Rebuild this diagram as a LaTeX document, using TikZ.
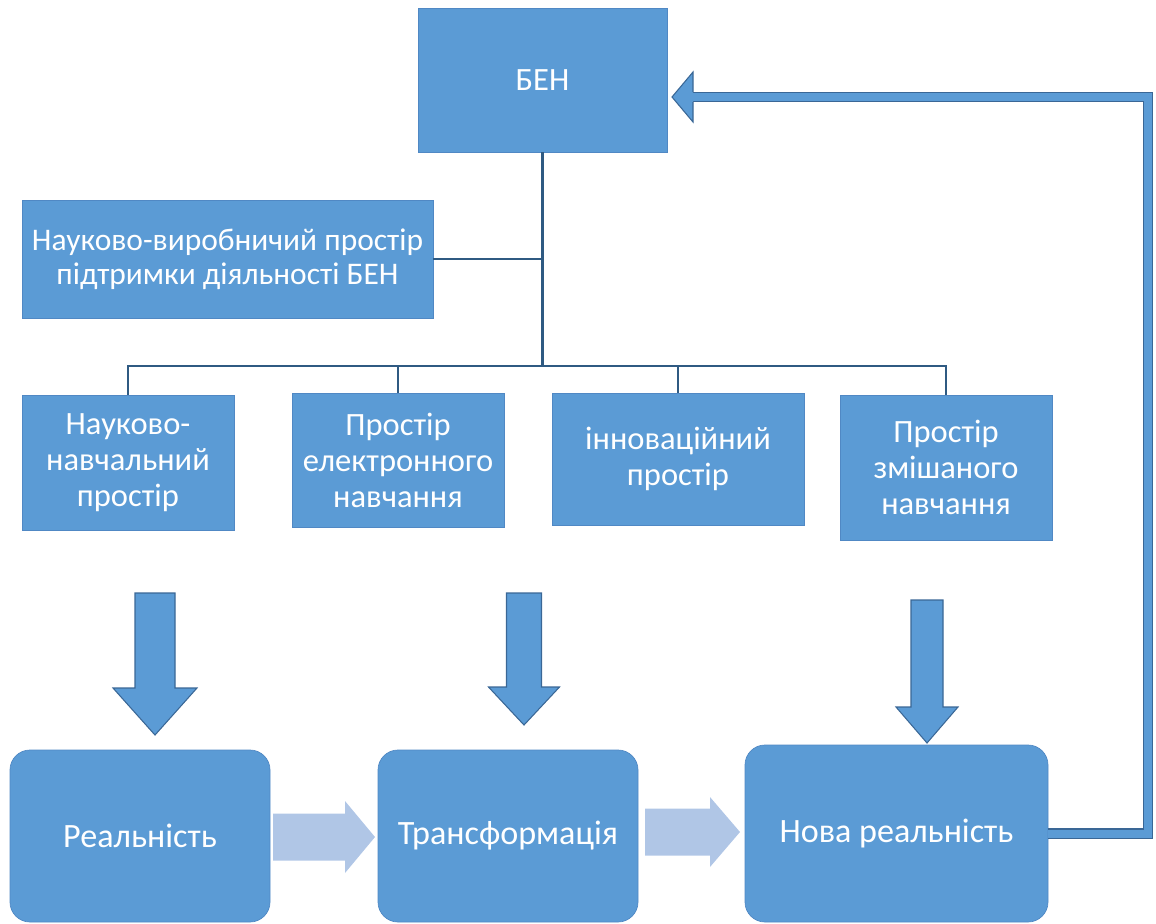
\documentclass[tikz,border=0pt]{standalone}
\usepackage{fontspec}
\setmainfont{Carlito}
\usepackage{xcolor}
\usepackage{tikz}
\usetikzlibrary{calc}
\usetikzlibrary{positioning}
\definecolor{boxblue}{HTML}{5B9BD5}
\definecolor{boxedge}{HTML}{5088C4}
\definecolor{linkdark}{HTML}{2F5A82}
\definecolor{arrowedge}{HTML}{3A6796}
\definecolor{paleblue}{HTML}{B0C6E6}

\begin{document}
\begin{tikzpicture}[
	box/.style={fill=boxblue,draw=boxedge,line width=0.4pt,text=white,align=center,
		inner sep=0pt,font=\fontsize{18.5}{20.5}\selectfont},
	rbox/.style={box,rounded corners=0.4cm,font=\fontsize{19.4}{21}\selectfont},
	link/.style={draw=linkdark,line width=1.4pt},
	fatarrow/.style={fill=boxblue,draw=arrowedge,line width=0.6pt,line join=miter},
	palearrow/.style={fill=paleblue},
	backlink/.style={draw=arrowedge,double=boxblue,line width=0.6pt,double distance=0.16cm}
	]
	\useasboundingbox (0,0) rectangle (23.12,-18.46);
	% top
	\node[box,minimum width=4.98cm,minimum height=2.88cm] (ben) at (10.85,-1.6) {БЕН};
	\node[box,minimum width=8.22cm,minimum height=2.36cm,font=\fontsize{17.9}{19.5}\selectfont] (prod) at (4.55,-5.18) {Науково-виробничий простір\\підтримки діяльності БЕН};
	% middle row
	\node[box,minimum width=4.24cm,minimum height=2.7cm] (nav) at (2.56,-9.25) {Науково-\\навчальний\\простір};
	\node[box,minimum width=4.24cm,minimum height=2.68cm] (el) at (7.96,-9.2) {Простір\\електронного\\навчання};
	\node[box,minimum width=5.04cm,minimum height=2.64cm] (inn) at (13.56,-9.18) {інноваційний\\простір};
	\node[box,minimum width=4.24cm,minimum height=2.9cm] (mix) at (18.92,-9.35) {Простір\\змішаного\\навчання};
	% bottom
	\node[rbox,minimum width=5.2cm,minimum height=3.44cm] (real) at (2.8,-16.72) {Реальність};
	\node[rbox,minimum width=5.2cm,minimum height=3.44cm] (trans) at (10.16,-16.72) {Трансформація};
	\node[rbox,minimum width=6.06cm,minimum height=3.54cm] (new) at (17.93,-16.67) {Нова реальність};
	
	\coordinate (bus) at (10.88,-7.32);
	\draw[link] (ben.south) -- (ben.south |- bus);
	\draw[link] (prod.east) -- (prod.east -| ben.south);
	\draw[link] (nav.north) |- (bus) -| (mix.north);
	\draw[link] (el.north) -- (el.north |- bus);
	\draw[link] (inn.north) -- (inn.north |- bus);
	
	\draw[fatarrow] (2.7,-11.86) -- (3.5,-11.86) -- (3.5,-13.76) -- (3.94,-13.76) -- (3.1,-14.7) -- (2.26,-13.76) -- (2.7,-13.76) -- cycle;
	\draw[fatarrow] (10.13,-11.86) -- (10.83,-11.86) -- (10.83,-13.74) -- (11.19,-13.74) -- (10.48,-14.5) -- (9.77,-13.74) -- (10.13,-13.74) -- cycle;
	\draw[fatarrow] (18.22,-12.0) -- (18.86,-12.0) -- (18.86,-14.14) -- (19.16,-14.14) -- (18.54,-14.86) -- (17.92,-14.14) -- (18.22,-14.14) -- cycle;
	
	\fill[palearrow] (5.46,-16.27) -- (6.9,-16.27) -- (6.9,-16.02) -- (7.5,-16.74) -- (6.9,-17.46) -- (6.9,-17.21) -- (5.46,-17.21) -- cycle;
	\fill[palearrow] (12.9,-16.17) -- (14.2,-16.17) -- (14.2,-15.94) -- (14.8,-16.64) -- (14.2,-17.34) -- (14.2,-17.11) -- (12.9,-17.11) -- cycle;
	
	% feedback to BEN
	\coordinate (fbtip) at (13.44,-1.94);
	\coordinate (fbturn) at (22.96,-1.94);
	\draw[backlink] (new.east) -| (fbturn) -- ($(fbtip)+(0.42,0)$);
	\fill[boxblue] (fbtip) -- ++(0.42,0.5) -- ++(0,-1) -- cycle;
	\draw[arrowedge,line width=0.6pt] ($(fbtip)+(0.42,0.1)$) -- ++(0,0.4) -- (fbtip) -- ++(0.42,-0.5) -- ++(0,0.4);
\end{tikzpicture}
\end{document}
